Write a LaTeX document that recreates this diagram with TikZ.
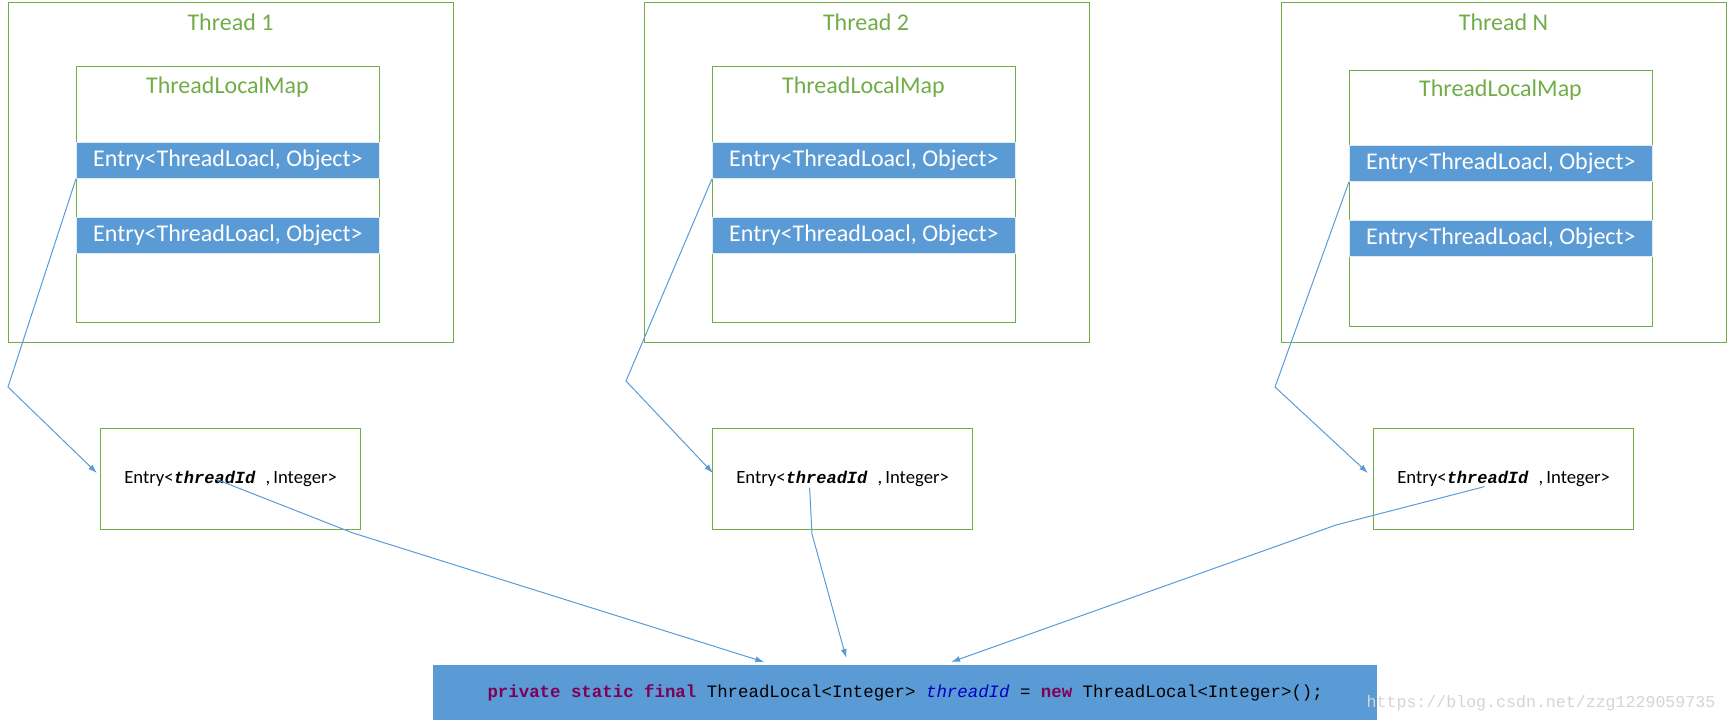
\documentclass[tikz,border=0pt]{standalone}
\usepackage{fontspec}
\setmainfont{Carlito}
\newfontfamily\codefont{Liberation Mono}
\usetikzlibrary{arrows.meta}
\usetikzlibrary{positioning}

\definecolor{tgreen}{HTML}{70AD47}
\definecolor{eblue}{HTML}{5B9BD5}
\definecolor{kwpurple}{HTML}{7F0055}
\definecolor{fieldblue}{HTML}{0000C0}

\tikzset{
	thread/.style={draw=tgreen,line width=1.3pt,minimum width=445pt,minimum height=340pt,anchor=north west,inner sep=0pt},
	map/.style={draw=tgreen,line width=1.2pt,minimum width=303pt,minimum height=256pt,anchor=north west,inner sep=0pt},
	bar/.style={fill=eblue,draw=white!80!eblue,line width=0.8pt,minimum width=303pt,minimum height=36pt,anchor=north west,inner sep=0pt,text=white,font=\fontsize{24}{26}\selectfont},
	title/.style={text=tgreen,font=\fontsize{24}{26}\selectfont},
	entrybox/.style={draw=tgreen,line width=1.2pt,minimum width=260pt,minimum height=101pt,anchor=north west,inner sep=0pt,font=\fontsize{18.7}{20}\selectfont},
	codebox/.style={fill=eblue,minimum width=944pt,minimum height=55pt,anchor=north west,inner sep=0pt,font=\codefont\fontsize{17.4}{20}\selectfont},
	link/.style={draw=eblue,line width=1pt,-{Latex[length=9pt,width=6pt]}},
}
\newcommand{\tid}{{\codefont\fontsize{17}{20}\selectfont\bfseries\itshape threadId\ }}

\begin{document}
\begin{tikzpicture}[x=1pt,y=-1pt]
	\useasboundingbox (0,0) rectangle (1727,723);
	% nodes
	\node[thread] (t1) at (8,1.5) {};%
	\node[title] (t1l) at (230.5,22) {Thread 1};%
	\node[map] (m1) at (76,66) {};%
	\node[title] (m1l) at (227.5,87) {ThreadLocalMap};%
	\node[bar] (e11) at (76,142) {Entry<ThreadLoacl, Object>};%
	\node[bar] (e12) at (76,217) {Entry<ThreadLoacl, Object>};%
	\node[entrybox] (ent1) at (100,428) {Entry<\tid,\,Integer>};%

	\node[thread] (t2) at (644,1.5) {};%
	\node[title] (t2l) at (866,22) {Thread 2};%
	\node[map] (m2) at (712,66) {};%
	\node[title] (m2l) at (863.5,87) {ThreadLocalMap};%
	\node[bar] (e21) at (712,142) {Entry<ThreadLoacl, Object>};%
	\node[bar] (e22) at (712,217) {Entry<ThreadLoacl, Object>};%
	\node[entrybox] (ent2) at (712,428) {Entry<\tid,\,Integer>};%

	\node[thread] (tn) at (1281,1.5) {};%
	\node[title] (tnl) at (1503.5,22) {Thread N};%
	\node[map] (mn) at (1349,70) {};%
	\node[title] (mnl) at (1500.5,90) {ThreadLocalMap};%
	\node[bar] (en1) at (1349,145) {Entry<ThreadLoacl, Object>};%
	\node[bar] (en2) at (1349,220) {Entry<ThreadLoacl, Object>};%
	\node[entrybox] (entn) at (1373,428) {Entry<\tid,\,Integer>};%

	\node[codebox] (code) at (433,665) {{\color{kwpurple}\bfseries private static final} ThreadLocal<Integer> {\color{fieldblue}\itshape threadId} = {\color{kwpurple}\bfseries new} ThreadLocal<Integer>();};%
	\node[text=black!17,font=\codefont\fontsize{16.6}{18}\selectfont] (url) at (1541,703) {https://blog.csdn.net/zzg1229059735};%

	% bends
	\coordinate (k1) at (8,387);
	\coordinate (k2) at (626,381);
	\coordinate (kn) at (1275,387);
	\coordinate (j1) at (353,533);
	\coordinate (j2) at (812,534);
	\coordinate (jn) at (1336,525);

	% edges
	\draw[link] (e11.south west) -- (k1) -- ([xshift=-3pt,yshift=6pt]ent1.west);
	\draw[link] (e21.south west) -- (k2) -- ([xshift=1pt,yshift=6pt]ent2.west);
	\draw[link] (en1.south west) -- (kn) -- ([xshift=-5pt,yshift=6pt]entn.west);

	\draw[link] ([xshift=-15pt]ent1.center) -- (j1) -- ([xshift=-141pt,yshift=3pt]code.north);
	\draw[link] ([xshift=-33pt,yshift=-8.5pt]ent2.center) -- (j2) -- ([xshift=-59pt,yshift=7pt]code.north);
	\draw[link] ([xshift=-19pt,yshift=-7.5pt]entn.center) -- (jn) -- ([xshift=46pt,yshift=3pt]code.north);
\end{tikzpicture}
\end{document}
